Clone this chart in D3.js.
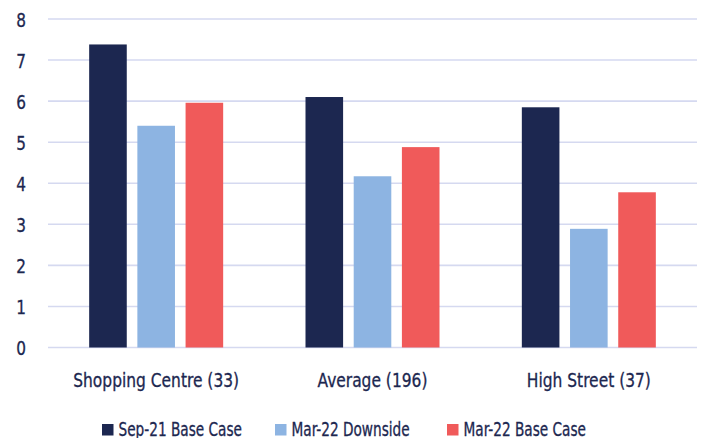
<!DOCTYPE html>
<html>
<head>
<meta charset="utf-8">
<script src="https://cdn.jsdelivr.net/npm/d3@7"></script>
<style>
  html, body { margin: 0; padding: 0; background: #fff; }
  svg { display: block; }
  text { font-family: "DejaVu Sans Condensed", "DejaVu Sans", sans-serif; fill: #1c2750; }
</style>
</head>
<body>
<svg id="chart" width="705" height="438"></svg>
<script>
const categories = ["Shopping Centre (33)", "Average (196)", "High Street (37)"];
const seriesNames = ["Sep-21 Base Case", "Mar-22 Downside", "Mar-22 Base Case"];
const sep21Base = [7.38, 6.10, 5.85];
const mar22Down = [5.40, 4.17, 2.89];
const mar22Base = [5.96, 4.88, 3.78];
const yTicks = [0, 1, 2, 3, 4, 5, 6, 7, 8];
const colors = ["#1c2750", "#8db4e2", "#f05a5a"];

const seriesValues = [sep21Base, mar22Down, mar22Base];
const rows = categories.map((c, i) => ({
  category: c,
  values: seriesNames.map((s, j) => ({ series: s, value: seriesValues[j][i], idx: j }))
}));

const svg = d3.select("#chart");
const margin = { left: 48, right: 8, top: 19, bottom: 90.5 };
const W = 705, H = 438;
const INK = "#1c2750";

const x0 = d3.scaleBand().domain(categories).range([margin.left, W - margin.right]).paddingInner(0).paddingOuter(0);
const x1 = d3.scaleBand().domain(seriesNames).range([-67, 67]).paddingInner(0.22).paddingOuter(0);
const y = d3.scaleLinear().domain([0, 8]).range([H - margin.bottom, margin.top]);

// narrow, medium-weight lettering
function narrowText(sel, size, squeeze) {
  sel.attr("font-size", size)
    .attr("fill", INK)
    .attr("stroke", INK)
    .attr("stroke-width", 0.3)
    .attr("transform", function () {
      const prev = this.getAttribute("data-base") || "";
      return `${prev} scale(${squeeze},1)`;
    });
}

// gridlines
svg.append("g")
  .selectAll("line")
  .data(yTicks)
  .join("line")
  .attr("x1", margin.left)
  .attr("x2", W - margin.right)
  .attr("y1", d => y(d))
  .attr("y2", d => y(d))
  .attr("stroke", "#d5d9f0")
  .attr("stroke-width", 1.6);

// y axis labels
const yAxis = d3.axisLeft(y).tickValues(yTicks).tickSize(0).tickPadding(0);
const gy = svg.append("g").attr("transform", "translate(26,0)").call(yAxis);
gy.select(".domain").remove();
gy.selectAll("text")
  .attr("font-family", "'DejaVu Sans Condensed', sans-serif")
  .attr("dy", "0.36em")
  .call(narrowText, 20, 0.85);

// bars
const groups = svg.append("g")
  .selectAll("g")
  .data(rows)
  .join("g")
  .attr("transform", d => `translate(${x0(d.category) + x0.bandwidth() / 2},0)`);

groups.selectAll("rect")
  .data(d => d.values)
  .join("rect")
  .attr("x", d => x1(d.series))
  .attr("width", x1.bandwidth())
  .attr("y", d => y(d.value))
  .attr("height", d => y(0) - y(d.value))
  .attr("fill", d => colors[d.idx]);

// category labels
const xAxis = d3.axisBottom(x0).tickSize(0).tickPadding(0);
const gx = svg.append("g").attr("transform", `translate(0,${y(0)})`).call(xAxis);
gx.select(".domain").remove();
gx.selectAll("text")
  .attr("font-family", "'DejaVu Sans Condensed', sans-serif")
  .attr("dy", "0")
  .attr("y", 39.5)
  .call(narrowText, 20, 0.86);

// legend
const legendX = [102, 275, 447];
const legend = svg.append("g")
  .selectAll("g")
  .data(seriesNames)
  .join("g")
  .attr("transform", (d, i) => `translate(${legendX[i]},424)`);
legend.append("rect")
  .attr("width", 11.5).attr("height", 11.5)
  .attr("fill", (d, i) => colors[i]);
legend.append("text")
  .attr("data-base", "translate(16.5,11.5)")
  .text(d => d)
  .call(narrowText, 19, 0.8);
</script>
</body>
</html>
